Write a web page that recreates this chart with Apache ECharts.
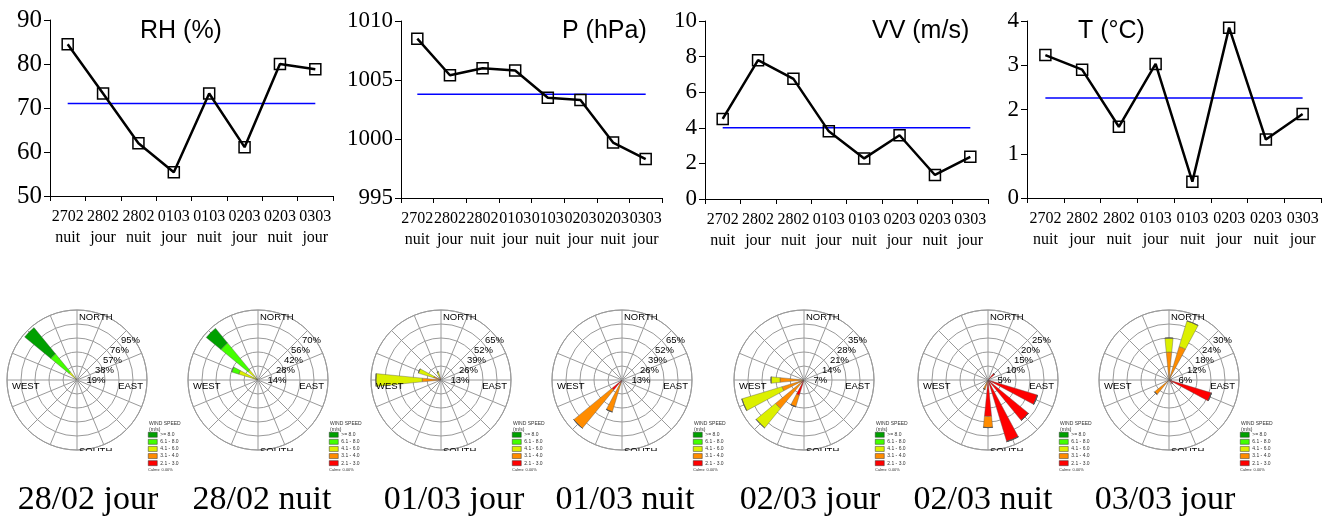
<!DOCTYPE html>
<html><head><meta charset="utf-8">
<script src="https://cdn.jsdelivr.net/npm/echarts@6/dist/echarts.min.js"></script>
<style>html,body{margin:0;padding:0;background:#fff;} #c{width:1338px;height:521px;}</style>
</head><body><div id="c"></div>
<script>
// ---------- top panels data ----------
const catDates   = ['2702','2802','2802','0103','0103','0203','0203','0303'];
const catPeriods = ['nuit','jour','nuit','jour','nuit','jour','nuit','jour'];
const rhValues = [84.5, 73.3, 62.0, 55.4, 73.3, 61.1, 80.0, 78.8];
const rhMean = 71.0;
const pValues = [1008.5, 1005.4, 1006.0, 1005.8, 1003.5, 1003.3, 999.7, 998.3];
const pMean = 1003.8;
const vvValues = [4.5, 7.8, 6.75, 3.8, 2.28, 3.58, 1.35, 2.37];
const vvMean = 4.0;
const tValues = [3.23, 2.9, 1.61, 3.03, 0.37, 3.85, 1.32, 1.9];
const tMean = 2.26;
const panelTitles = ['RH (%)', 'P (hPa)', 'VV (m/s)', 'T (°C)'];
const yMins = [50, 995, 0, 0];
const yMaxs = [90, 1010, 10, 4];
const yIntervals = [10, 5, 2, 1];

// ---------- wind rose data ----------
const directions = ['N','NNE','NE','ENE','E','ESE','SE','SSE','S','SSW','SW','WSW','W','WNW','NW','NNW'];
const speedNames = ['2.1 - 3.0','3.1 - 4.0','4.1 - 6.0','6.1 - 8.0','>= 8.0']; // inner -> outer
const speedColors = ['#ff0000','#ff8c00','#dcf000','#44ff00','#00a000'];
const roseTitles = ['28/02 jour','28/02 nuit','01/03 jour','01/03 nuit','02/03 jour','02/03 nuit','03/03 jour'];
const roseMax = [95, 70, 65, 65, 35, 25, 30];
//            N  NNE NE ENE E  ESE SE SSE S  SSW SW WSW W   WNW NW  NNW
const rose1 = [
  [0,0,0,0,0,0,0,0,0,0,0,0,0,0,0,0],
  [0,0,0,0,0,0,0,0,0,0,0,0,0,0,2,0],
  [0,0,0,0,0,0,0,0,0,0,0,0,0,0,12,0],
  [0,0,0,0,0,0,0,0,0,0,0,0,0,0,32,0],
  [0,0,0,0,0,0,0,0,0,0,0,0,0,0,46,0]];
const rose2 = [
  [0,0,0,0,0,0,0,0,0,0,0,0,0,0,0,0],
  [0,0,0,0,0,0,0,0,0,0,0,0,0,2,1,0],
  [0,0,0,0,0,0,0,0,0,0,0,0,0,18,12,0],
  [0,0,0,0,0,0,0,0,0,0,0,0,0,7.5,35,0],
  [0,0,0,0,0,0,0,0,0,0,0,0,0,0,19,0]];
const rose3 = [
  [0,0,0,0,0,0,0,0,0,0,0,0,2.5,1,0,1],
  [0,0,0,0,0,0,0,0,0,0,0,0,15,6,0,2],
  [0,0,0,0,0,0,0,0,0,0,0,0,43,15,0,5],
  [0,0,0,0,0,0,0,0,0,0,0,0,0,0,0,0],
  [0,0,0,0,0,0,0,0,0,0,0,0,0,0,0,0]];
const rose4 = [
  [0,0,0,0,0,0,0,0,0,3,12,0,0,0,0,0],
  [0,0,0,0,0,0,0,0,0,28,46,0,0,0,0,0],
  [0,0,0,0,0,0,0,0,0,0,0,0,0,0,0,0],
  [0,0,0,0,0,0,0,0,0,0,0,0,0,0,0,0],
  [0,0,0,0,0,0,0,0,0,0,0,0,0,0,0,0]];
const rose5 = [
  [0,0,0,0,0,0,0,0,0,8,2,0,0,0,0,0],
  [0,0,0,0,0,0,0,0,0,6,16.5,11.5,12,0,0,0],
  [0,0,0,0,0,0,0,0,0,0,12.5,21,4.5,0,0,0],
  [0,0,0,0,0,0,0,0,0,0,0,0,0,0,0,0],
  [0,0,0,0,0,0,0,0,0,0,0,0,0,0,0,0]];
const rose6 = [
  [0,0,3,0,0,18.5,18.7,23,13,0,0,0,0,0,0,0],
  [0,0,0,0,0,0,0,0,4,3.5,0,0,0,0,0,0],
  [0,0,0,0,0,0,0,0,0,0,0,0,0,0,0,0],
  [0,0,0,0,0,0,0,0,0,0,0,0,0,0,0,0],
  [0,0,0,0,0,0,0,0,0,0,0,0,0,0,0,0]];
const rose7 = [
  [0,0,0,0,1,19,2,0,0,0,0,0,0,0,0,0],
  [12,15,0,0,0,0,0,0,0,0,8,0,0,0,0,0],
  [6,11.5,0,0,0,0,0,0,0,0,0,0,0,0,0,0],
  [0,0,0,0,0,0,0,0,0,0,0,0,0,0,0,0],
  [0,0,0,0,0,0,0,0,0,0,0,0,0,0,0,0]];
const roses = [rose1, rose2, rose3, rose4, rose5, rose6, rose7];
const calmsText = 'Calms: 0.00%';

// ---------- layout ----------
const serif = "'Liberation Serif','Times New Roman',serif";
const sans = "'Liberation Sans',Arial,sans-serif";
const grids = [
  {left:50,  top:20, width:283, height:176},
  {left:401, top:21, width:261, height:177},
  {left:705, top:21, width:283, height:178},
  {left:1027,top:21, width:294, height:177}
];
const yLabelSize = [25, 23, 23, 23];
const titlePos = [[135,14],[557,14],[867,14],[1073,14]];
const roseCx = [77, 258, 441, 622, 804, 988, 1169];
const roseCy = 380;
const roseR = 70;
const dateX = [88, 262, 454, 625, 810, 983, 1165];

const categories = catDates.map((d,i)=>d+'\n'+catPeriods[i]);
const panelValues = [rhValues, pValues, vvValues, tValues];
const panelMeans = [rhMean, pMean, vvMean, tMean];

const option = {
  backgroundColor:'#fff',
  animation:false,
  title: panelTitles.map((t,i)=>({text:t, left:titlePos[i][0], top:titlePos[i][1],
    textStyle:{fontFamily:sans, fontSize:25, fontWeight:'normal', color:'#000'}})),
  grid: grids.map(g=>Object.assign({containLabel:false}, g)),
  xAxis: grids.map((g,i)=>({gridIndex:i, type:'category', data:categories, boundaryGap:true,
    axisLine:{lineStyle:{color:'#000', width:1}},
    axisTick:{show:true, length:5, lineStyle:{color:'#000'}},
    axisLabel:{interval:0, color:'#000', fontFamily:serif, fontSize:16, lineHeight:21, margin:10}})),
  yAxis: grids.map((g,i)=>({gridIndex:i, type:'value', min:yMins[i], max:yMaxs[i], interval:yIntervals[i],
    axisLine:{show:true, lineStyle:{color:'#000', width:1}},
    axisTick:{show:true, length:6, lineStyle:{color:'#000'}},
    splitLine:{show:false},
    axisLabel:{color:'#000', fontFamily:serif, fontSize:yLabelSize[i], margin:8, formatter:(v)=>String(v)}})),
  polar: [],
  angleAxis: [],
  radiusAxis: [],
  legend: [],
  series: [],
  graphic: []
};

panelValues.forEach((vals,i)=>{
  option.series.push({type:'line', xAxisIndex:i, yAxisIndex:i, data:categories.map(()=>panelMeans[i]),
    symbol:'none', lineStyle:{color:'#0000ff', width:1.5}, z:1, silent:true});
  option.series.push({type:'line', xAxisIndex:i, yAxisIndex:i, data:vals,
    symbol:'rect', symbolSize:11,
    itemStyle:{color:'rgba(255,255,255,0)', borderColor:'#000', borderWidth:1.5},
    lineStyle:{color:'#000', width:2.5}, z:3, silent:true});
});

roses.forEach((rose,i)=>{
  const cx = roseCx[i];
  option.polar.push({center:[cx, roseCy], radius:roseR});
  option.polar.push({center:[cx, roseCy], radius:roseR});
  option.angleAxis.push({polarIndex:2*i, type:'value', min:0, max:360, interval:22.5, startAngle:90, clockwise:true,
    axisLine:{show:true, lineStyle:{color:'#9a9a9a', width:1}}, axisTick:{show:false}, axisLabel:{show:false},
    splitLine:{show:true, lineStyle:{color:'#9a9a9a', width:1}}, silent:true});
  option.radiusAxis.push({polarIndex:2*i, type:'value', min:0, max:roseMax[i], interval:roseMax[i]/5,
    axisLine:{show:false}, axisTick:{show:false}, axisLabel:{show:false},
    splitLine:{show:true, lineStyle:{color:'#9a9a9a', width:1}}, silent:true});
  option.angleAxis.push({polarIndex:2*i+1, type:'category', data:directions, startAngle:90+11.25, clockwise:true,
    boundaryGap:true, axisLine:{show:false}, axisTick:{show:false}, axisLabel:{show:false}, splitLine:{show:false}});
  option.radiusAxis.push({polarIndex:2*i+1, type:'value', min:0, max:roseMax[i],
    axisLine:{show:false}, axisTick:{show:false}, axisLabel:{show:false}, splitLine:{show:false}});
  rose.forEach((vals,c)=>{
    option.series.push({type:'bar', coordinateSystem:'polar', polarIndex:2*i+1, stack:'rose'+i,
      name:speedNames[c], data:vals, barCategoryGap:'50%',
      itemStyle:{color:speedColors[c], borderColor:'#555', borderWidth:0.4}, silent:true, z:4});
  });
  option.legend.push({data:speedNames.slice().reverse(), left:cx+71, top:roseCy+52, orient:'vertical',
    itemWidth:9, itemHeight:5, itemGap:1.6, icon:'rect', selectedMode:false, padding:0,
    itemStyle:{borderColor:'#333', borderWidth:0.5},
    textStyle:{fontSize:5, color:'#333', fontFamily:sans, padding:[0,0,0,-2]}});
  // compass labels
  const g = option.graphic;
  const ts = {fontFamily:sans, fontSize:9.5, fill:'#000'};
  g.push({type:'text', x:cx+2, y:roseCy-63, style:Object.assign({text:'NORTH', verticalAlign:'middle'}, ts), z:10});
  g.push({type:'text', x:cx-65, y:roseCy+6, style:Object.assign({text:'WEST', verticalAlign:'middle'}, ts), z:10});
  g.push({type:'text', x:cx+66, y:roseCy+6, style:Object.assign({text:'EAST', verticalAlign:'middle', align:'right'}, ts), z:10});
  g.push({type:'text', x:cx+2, y:roseCy+66, style:Object.assign({text:'SOUTH', verticalAlign:'top'}, ts), z:10});
  // crop bottom half of SOUTH (cut in the original picture)
  g.push({type:'rect', shape:{x:cx-4, y:451, width:44, height:10}, style:{fill:'#fff'}, z:11});
  const offX = [9.5, 18, 26, 33, 44];
  const offY = [0, -10, -20, -30, -40];
  for (let k=0;k<5;k++){
    const v = Math.round(roseMax[i]*(k+1)/5);
    g.push({type:'text', x:cx+offX[k], y:roseCy+offY[k], style:Object.assign({text:v+'%', verticalAlign:'middle'}, ts), z:10});
  }
  g.push({type:'text', x:cx+72, y:roseCy+41, style:{text:'WIND SPEED\n(m/s)', fontSize:5, lineHeight:5.5, fill:'#333', fontFamily:sans}, z:10});
  g.push({type:'text', x:cx+71, y:roseCy+88, style:{text:calmsText, fontSize:4, fill:'#333', fontFamily:sans}, z:10});
  g.push({type:'text', x:dateX[i], y:500, style:{text:roseTitles[i], fontFamily:serif, fontSize:34, fill:'#000', align:'center', verticalAlign:'middle'}, z:10});
});

const chart = echarts.init(document.getElementById('c'));
chart.setOption(option);
</script></body></html>
